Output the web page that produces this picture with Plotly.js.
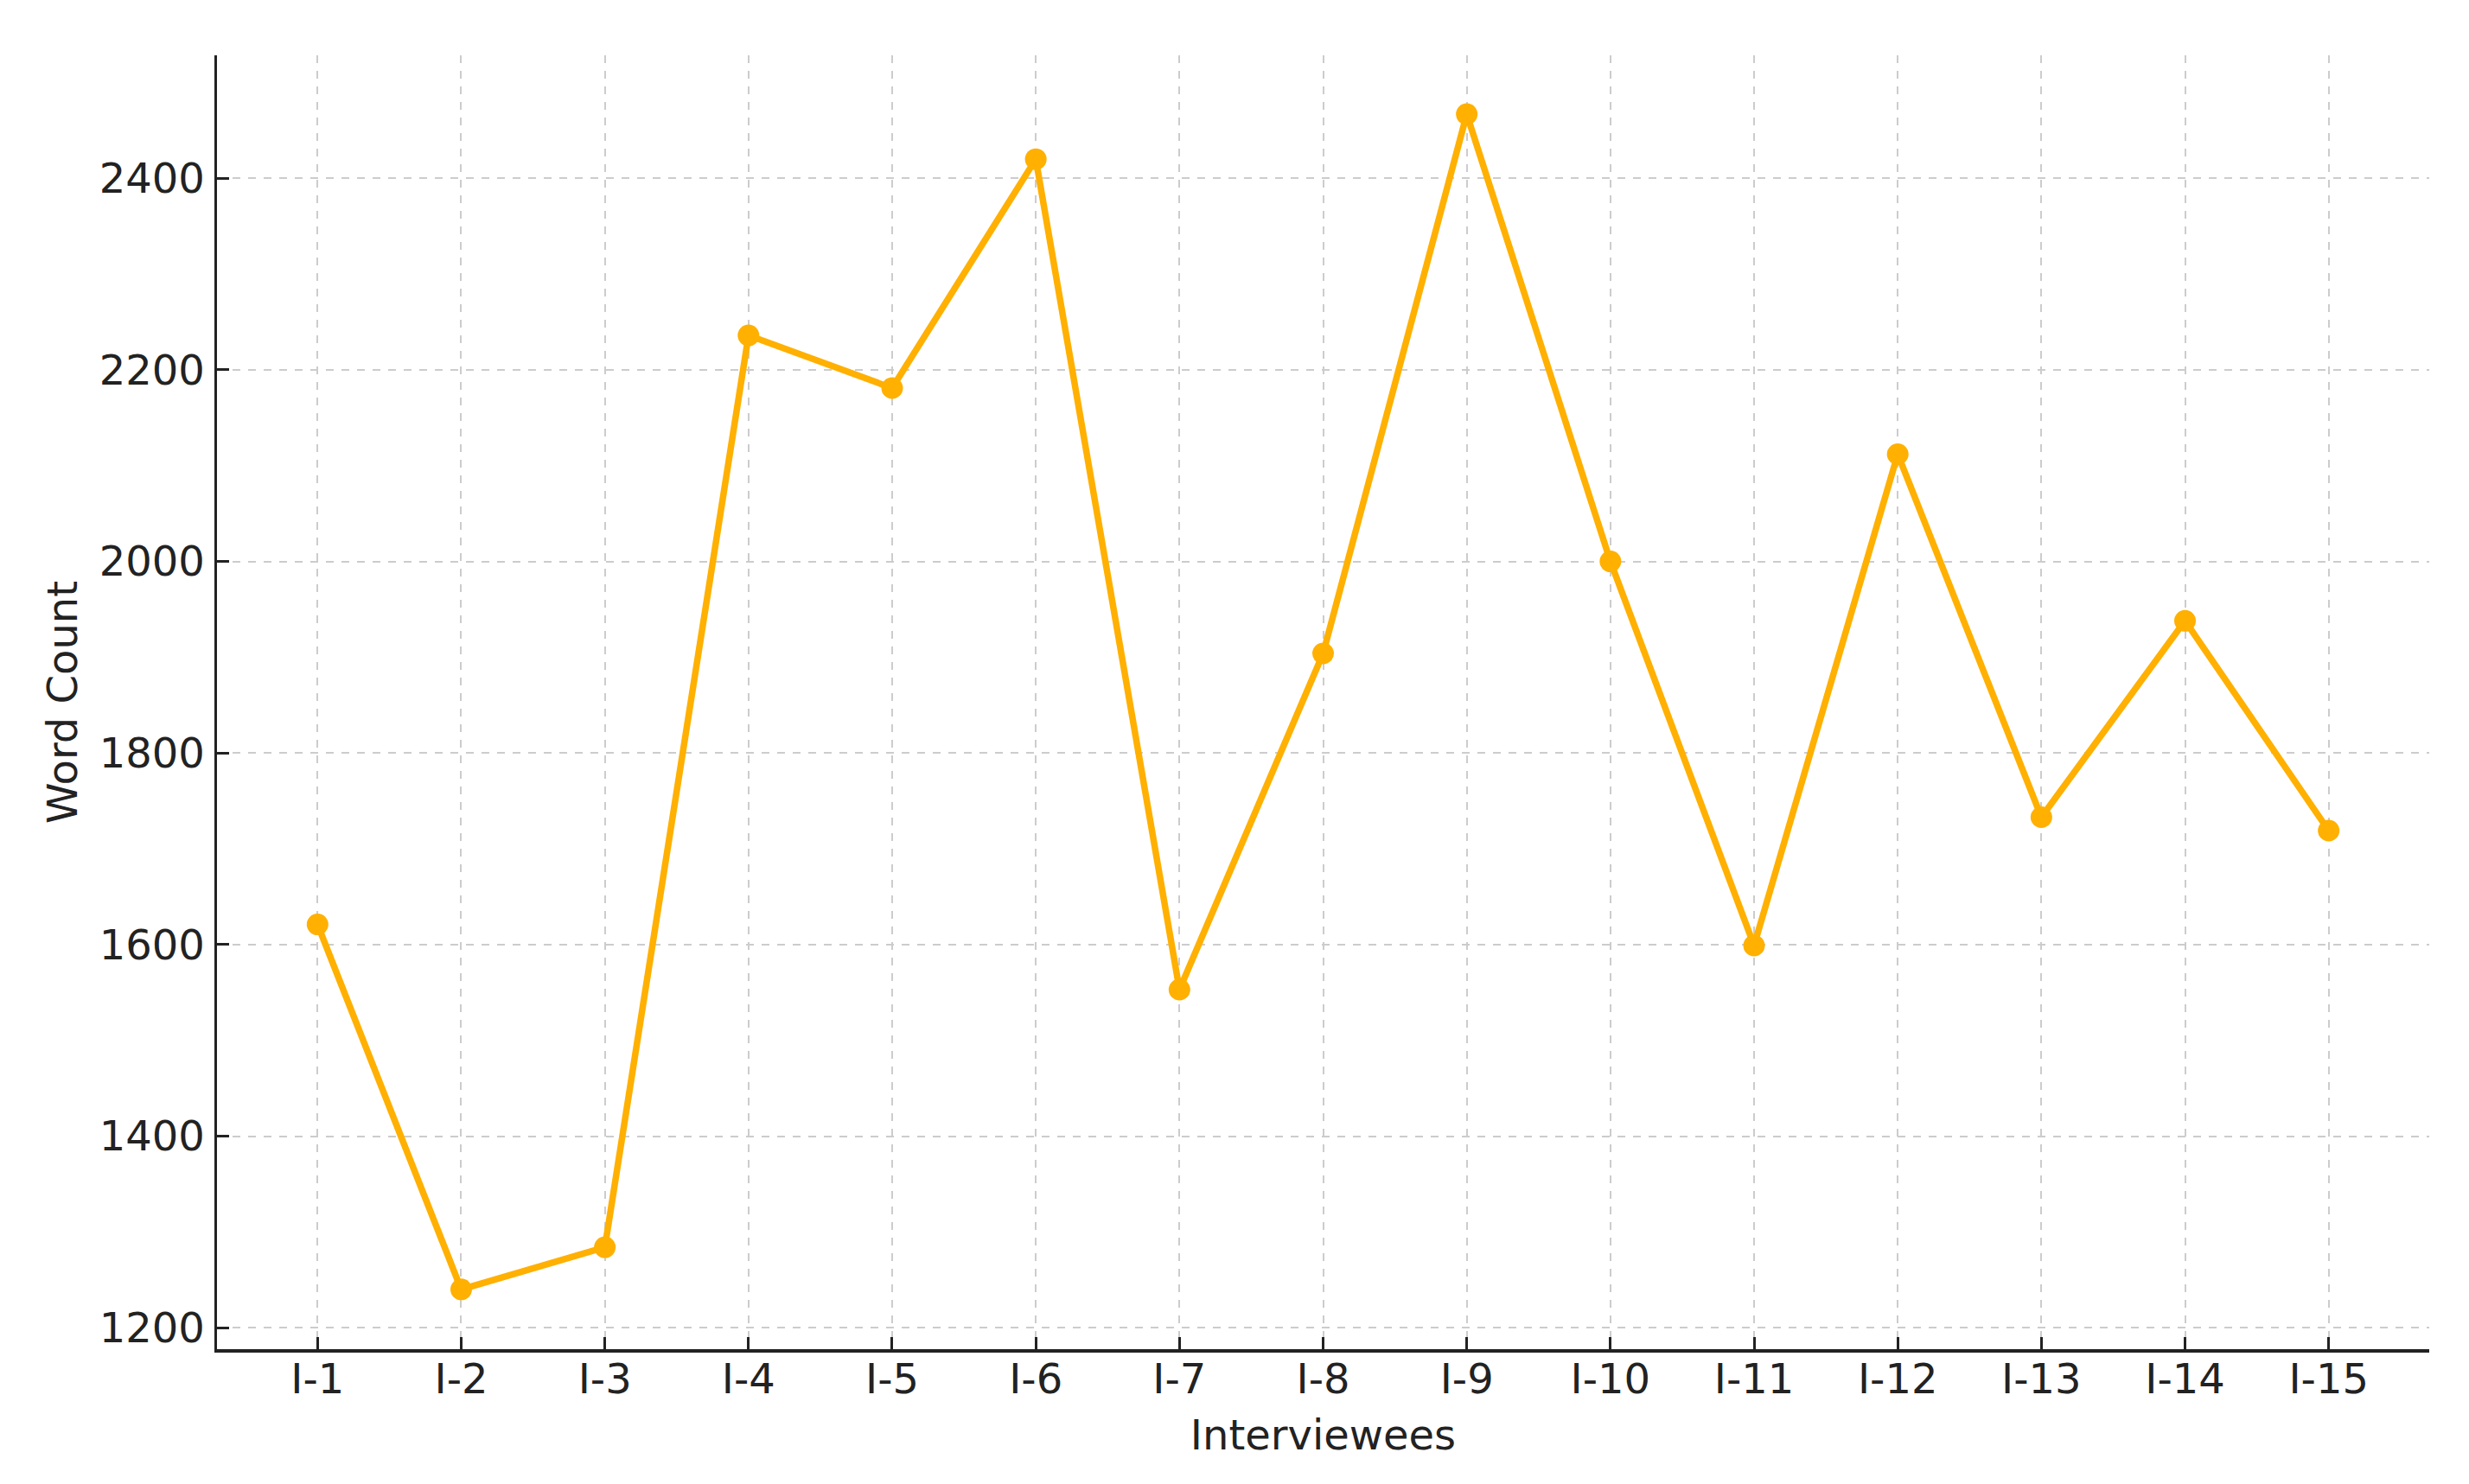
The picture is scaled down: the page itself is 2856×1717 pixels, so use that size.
<!DOCTYPE html>
<html>
<head>
<meta charset="utf-8">
<script src="https://cdn.plot.ly/plotly-3.0.1.min.js"></script>
<style>html,body{margin:0;padding:0;background:#fff;}#chart{width:2856px;height:1717px;}</style>
</head>
<body>
<div id="chart"></div>
<script>
const interviewees = ["I-1","I-2","I-3","I-4","I-5","I-6","I-7","I-8","I-9","I-10","I-11","I-12","I-13","I-14","I-15"];
const wordCounts = [1621, 1240, 1284, 2236, 2181, 2420, 1553, 1904, 2467, 2000, 1599, 2112, 1733, 1938, 1719];
const yTicks = [1200, 1400, 1600, 1800, 2000, 2200, 2400];

const font = {family: "DejaVu Sans, sans-serif", size: 48, color: "#222222"};

const trace = {
  x: interviewees,
  y: wordCounts,
  type: "scatter",
  mode: "lines+markers",
  line: {color: "#FFB000", width: 7.5},
  marker: {color: "#FFB000", size: 25},
  hoverinfo: "x+y"
};

const layout = {
  width: 2856,
  height: 1717,
  paper_bgcolor: "#ffffff",
  plot_bgcolor: "#ffffff",
  margin: {l: 251, r: 46, t: 64, b: 156, pad: 0},
  showlegend: false,
  font: font,
  xaxis: {
    type: "category",
    range: [-0.7, 14.7],
    showline: true, linecolor: "#222222", linewidth: 3.5,
    ticks: "inside", ticklen: 14, tickwidth: 3, tickcolor: "#222222",
    showgrid: true, gridcolor: "#cccccc", gridwidth: 2, griddash: "dash",
    zeroline: false,
    tickfont: font,
    ticklabelstandoff: -10,
    title: {text: "Interviewees", font: font, standoff: 22}
  },
  yaxis: {
    range: [1177.6, 2528.4],
    tickvals: yTicks,
    showline: true, linecolor: "#222222", linewidth: 3.5,
    ticks: "inside", ticklen: 14, tickwidth: 3, tickcolor: "#222222",
    showgrid: true, gridcolor: "#cccccc", gridwidth: 2, griddash: "dash",
    zeroline: false,
    tickfont: font,
    ticklabelstandoff: 1,
    title: {text: "Word Count", font: font, standoff: 11}
  }
};

Plotly.newPlot("chart", [trace], layout, {displayModeBar: false, staticPlot: true});
</script>
</body>
</html>
